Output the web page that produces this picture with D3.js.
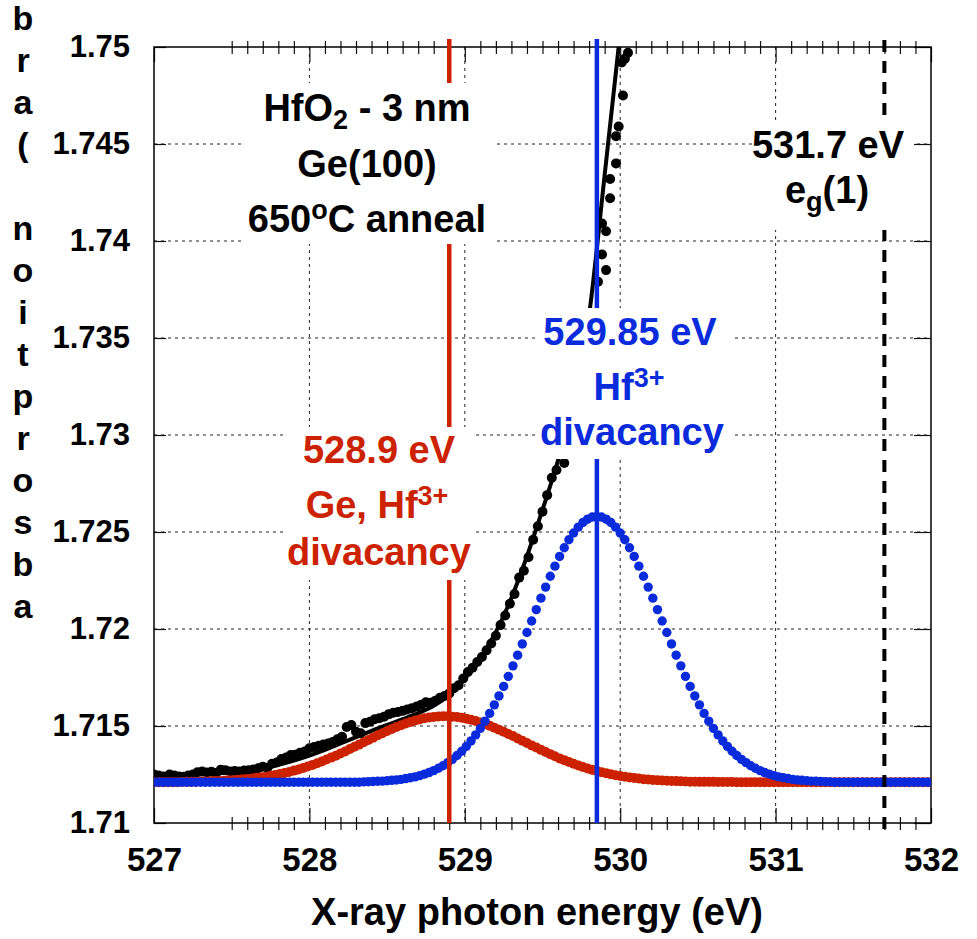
<!DOCTYPE html>
<html><head><meta charset="utf-8">
<script src="https://cdn.jsdelivr.net/npm/d3@7"></script>
<style>
body{margin:0;background:#fff}
svg{display:block}
text{font-family:"Liberation Sans",Arial,sans-serif;font-weight:bold}
</style>
</head><body>
<svg id="chart" width="977" height="939"></svg>
<script>
// ---------------- data ----------------
const xTicks = [527, 528, 529, 530, 531, 532];
const xTickLabels = ["527", "528", "529", "530", "531", "532"];
const yTicks = [1.71, 1.715, 1.72, 1.725, 1.73, 1.735, 1.74, 1.745, 1.75];
const yTickLabels = ["1.71", "1.715", "1.72", "1.725", "1.73", "1.735", "1.74", "1.745", "1.75"];
const yLabelChars = ["b", "r", "a", "(", " ", "n", "o", "i", "t", "p", "r", "o", "s", "b", "a"];
const xTitle = "X-ray photon energy (eV)";

// component curves sampled on a 0.03 eV grid starting at 527 eV
const gridStart = 527, gridStep = 0.03;
const redVals = [
  1.7121, 1.7121, 1.7121, 1.7121, 1.7121, 1.7121, 1.71211, 1.71212, 1.71212,
  1.71213, 1.71214, 1.71214, 1.71215, 1.71216, 1.71217, 1.71218, 1.71220, 1.71221, 1.71223,
  1.71225, 1.71227, 1.71230, 1.71233, 1.71236, 1.71239, 1.71243, 1.71248, 1.71253, 1.71258,
  1.71263, 1.71270, 1.71276, 1.71284, 1.71291, 1.71299, 1.71308, 1.71317, 1.71327, 1.71337,
  1.71347, 1.71358, 1.71369, 1.71381, 1.71393, 1.71404, 1.71416, 1.71428, 1.71440, 1.71452,
  1.71463, 1.71474, 1.71485, 1.71495, 1.71504, 1.71513, 1.71521, 1.71528, 1.71534, 1.71540,
  1.71544, 1.71547, 1.71549, 1.71550, 1.71550, 1.71548, 1.71546, 1.71543, 1.71538, 1.71532,
  1.71526, 1.71518, 1.71510, 1.71501, 1.71491, 1.71481, 1.71470, 1.71459, 1.71448, 1.71436,
  1.71424, 1.71412, 1.71400, 1.71389, 1.71377, 1.71366, 1.71355, 1.71344, 1.71333, 1.71324,
  1.71314, 1.71305, 1.71297, 1.71289, 1.71281, 1.71274, 1.71268, 1.71262, 1.71256, 1.71251,
  1.71246, 1.71242, 1.71238, 1.71235, 1.71232, 1.71229, 1.71226, 1.71224, 1.71222, 1.71221,
  1.71219, 1.71218, 1.71217, 1.71216, 1.71215, 1.71214, 1.71213, 1.71213, 1.71212, 1.71212,
  1.71212, 1.71212, 1.71211, 1.71211, 1.71211, 1.71211, 1.7121, 1.7121, 1.7121, 1.7121,
  1.7121, 1.7121, 1.7121, 1.7121, 1.7121, 1.7121, 1.7121, 1.7121, 1.7121, 1.7121,
  1.7121, 1.7121, 1.7121, 1.7121, 1.7121, 1.7121, 1.7121, 1.7121, 1.7121, 1.7121,
  1.7121, 1.7121, 1.7121, 1.7121, 1.7121, 1.7121, 1.7121, 1.7121, 1.7121, 1.7121,
  1.7121, 1.7121, 1.7121, 1.7121, 1.7121, 1.7121, 1.7121, 1.7121
];
const blueVals = [
  1.7121, 1.7121, 1.7121, 1.7121, 1.7121, 1.7121, 1.7121, 1.7121, 1.7121, 1.7121,
  1.7121, 1.7121, 1.7121, 1.7121, 1.7121, 1.7121, 1.7121, 1.7121, 1.7121, 1.7121,
  1.7121, 1.7121, 1.7121, 1.7121, 1.7121, 1.7121, 1.7121, 1.7121, 1.7121, 1.7121,
  1.7121, 1.7121, 1.7121, 1.7121, 1.7121, 1.7121, 1.7121, 1.7121, 1.7121, 1.7121,
  1.7121, 1.7121, 1.7121, 1.7121, 1.7121, 1.71212, 1.71213, 1.71214, 1.71215, 1.71216,
  1.71218, 1.71220, 1.71222, 1.71225, 1.71229, 1.71233, 1.71238, 1.71244, 1.71252, 1.71260,
  1.71270, 1.71282, 1.71295, 1.71311, 1.71328, 1.71348, 1.71370, 1.71395, 1.71423, 1.71454,
  1.71488, 1.71525, 1.71565, 1.71609, 1.71655, 1.71704, 1.71756, 1.71810, 1.71865, 1.71923,
  1.71982, 1.72041, 1.72100, 1.72159, 1.72216, 1.72272, 1.72324, 1.72374, 1.72419, 1.72460,
  1.72495, 1.72525, 1.72549, 1.72566, 1.72577, 1.72580, 1.72577, 1.72566, 1.72549, 1.72525,
  1.72495, 1.72460, 1.72419, 1.72374, 1.72324, 1.72272, 1.72216, 1.72159, 1.72100, 1.72041,
  1.71982, 1.71923, 1.71865, 1.71810, 1.71756, 1.71704, 1.71655, 1.71609, 1.71565, 1.71525,
  1.71488, 1.71454, 1.71423, 1.71395, 1.71370, 1.71348, 1.71328, 1.71311, 1.71295, 1.71282,
  1.71270, 1.71260, 1.71252, 1.71244, 1.71238, 1.71233, 1.71229, 1.71225, 1.71222, 1.71220,
  1.71218, 1.71216, 1.71215, 1.71214, 1.71213, 1.71212, 1.7121, 1.7121, 1.7121, 1.7121,
  1.7121, 1.7121, 1.7121, 1.7121, 1.7121, 1.7121, 1.7121, 1.7121, 1.7121, 1.7121,
  1.7121, 1.7121, 1.7121, 1.7121, 1.7121, 1.7121, 1.7121
];

// measured absorption points
const dataE = [
  527.00, 527.03, 527.06, 527.10, 527.13, 527.16, 527.19, 527.22, 527.25, 527.28,
  527.31, 527.34, 527.37, 527.40, 527.43, 527.46, 527.49, 527.52, 527.55, 527.58,
  527.61, 527.64, 527.67, 527.70, 527.73, 527.76, 527.79, 527.82, 527.85, 527.88,
  527.91, 527.94, 527.97, 528.00, 528.03, 528.06, 528.09, 528.12, 528.15, 528.18,
  528.21, 528.24, 528.27, 528.30, 528.33, 528.36, 528.39, 528.42, 528.45, 528.48,
  528.51, 528.54, 528.57, 528.60, 528.63, 528.66, 528.69, 528.72, 528.75, 528.78,
  528.81, 528.84, 528.87, 528.90, 528.93, 528.96, 528.99, 529.02, 529.05, 529.08,
  529.11, 529.14, 529.17, 529.20, 529.23, 529.26, 529.29, 529.32, 529.35, 529.38,
  529.41, 529.44, 529.47, 529.50, 529.53, 529.56, 529.59, 529.64, 529.68, 529.72,
  529.76, 529.80, 529.857, 529.883, 529.909, 529.909, 529.883, 529.935, 529.935, 529.973,
  529.973, 529.99, 530.018, 530.01, 530.03, 530.05
];
const dataV = [
  1.71250, 1.71245, 1.71240, 1.71250, 1.71245, 1.71240, 1.71238, 1.71245, 1.71250, 1.71262,
  1.71265, 1.71260, 1.71264, 1.71258, 1.71275, 1.71272, 1.71266, 1.71268, 1.71265, 1.71270,
  1.71272, 1.71276, 1.71282, 1.71290, 1.71285, 1.71305, 1.71312, 1.71330, 1.71338, 1.71350,
  1.71352, 1.71362, 1.71368, 1.71385, 1.71392, 1.71398, 1.71405, 1.71410, 1.71418, 1.71432,
  1.71445, 1.71495, 1.71505, 1.71470, 1.71462, 1.71515, 1.71522, 1.71535, 1.71540, 1.71548,
  1.71560, 1.71568, 1.71572, 1.71578, 1.71585, 1.71592, 1.71600, 1.71610, 1.71622, 1.71620,
  1.71630, 1.71645, 1.71655, 1.71668, 1.71695, 1.71710, 1.71745, 1.71778, 1.71800, 1.71830,
  1.71856, 1.71890, 1.71925, 1.71965, 1.72020, 1.72070, 1.72130, 1.72180, 1.72265, 1.72300,
  1.72370, 1.72460, 1.72530, 1.72605, 1.72690, 1.72780, 1.72820, 1.72856, 1.73000, 1.73180,
  1.73350, 1.73580, 1.73790, 1.73930, 1.73850, 1.74050, 1.74090, 1.74220, 1.74320, 1.74400,
  1.74540, 1.74590, 1.74750, 1.74920, 1.74940, 1.74970
];

// fitted curve
const fitE = [527.0, 527.1, 527.2, 527.3, 527.4, 527.5, 527.6, 527.7, 527.8, 527.9,
  528.0, 528.1, 528.2, 528.3, 528.4, 528.5, 528.6, 528.7, 528.8, 528.9,
  529.0, 529.1, 529.2, 529.3, 529.4, 529.5, 529.6, 529.7, 529.8, 529.9, 529.99];
const fitV = [1.71245, 1.71246, 1.71248, 1.71252, 1.71256, 1.71262, 1.71270, 1.71282, 1.71300, 1.71322,
  1.71348, 1.71377, 1.71410, 1.71443, 1.71475, 1.71506, 1.71535, 1.71566, 1.71604, 1.71660,
  1.71742, 1.71850, 1.71985, 1.72160, 1.72375, 1.72615, 1.72870, 1.73180, 1.73620, 1.74340, 1.75000];

const markerRed = 528.9, markerBlue = 529.85, markerEg = 531.7;

// ---------------- drawing ----------------
const RED = "#cc2200", BLUE = "#0a2bdc";
const svg = d3.select("#chart");
const x = d3.scaleLinear().domain([527, 532]).range([154, 931]);
const y = d3.scaleLinear().domain([1.71, 1.75]).range([823, 47]);
const L = 154, R = 931, T = 47, B = 823;

svg.append("defs").append("clipPath").attr("id", "clip")
  .append("rect").attr("x", L).attr("y", T).attr("width", R - L).attr("height", B - T);

// grid
const grid = svg.append("g").attr("stroke", "#222").attr("stroke-width", 1).attr("stroke-dasharray", "3,4");
grid.selectAll(".gv").data(xTicks.slice(1, -1)).join("line")
  .attr("x1", d => x(d)).attr("x2", d => x(d)).attr("y1", T).attr("y2", B);
grid.selectAll(".gh").data(yTicks.slice(1, -1)).join("line")
  .attr("x1", L).attr("x2", R).attr("y1", d => y(d)).attr("y2", d => y(d));

// axes
const minor = d3.range(5, 50).map(i => 527 + i * 0.1).filter(v => Math.abs(v - Math.round(v)) > 0.01);
function styleAxis(g) { g.select(".domain").remove(); g.selectAll("line").attr("stroke", "#111").attr("stroke-width", 1.2); }

const gb = svg.append("g").attr("transform", `translate(0,${B})`)
  .call(d3.axisBottom(x).tickValues(xTicks).tickSizeInner(-15).tickSizeOuter(0)
    .tickPadding(25).tickFormat((d, i) => xTickLabels[i]));
styleAxis(gb);
gb.selectAll("text").attr("font-size", 33).attr("fill", "#000");
const gbm = svg.append("g").attr("transform", `translate(0,${B})`)
  .call(d3.axisBottom(x).tickValues(minor).tickSize(7).tickFormat(""));
styleAxis(gbm); gbm.selectAll("line").attr("y1", -6);

const gt = svg.append("g").attr("transform", `translate(0,${T})`)
  .call(d3.axisTop(x).tickValues(xTicks).tickSizeInner(-15).tickSizeOuter(0).tickFormat(""));
styleAxis(gt);
const gtm = svg.append("g").attr("transform", `translate(0,${T})`)
  .call(d3.axisTop(x).tickValues(minor).tickSize(6).tickFormat(""));
styleAxis(gtm); gtm.selectAll("line").attr("y1", 7);

const gl = svg.append("g").attr("transform", `translate(${L},0)`)
  .call(d3.axisLeft(y).tickValues(yTicks).tickSizeInner(-12).tickSizeOuter(0)
    .tickPadding(24).tickFormat((d, i) => yTickLabels[i]));
styleAxis(gl);
gl.selectAll("text").attr("font-size", 31).attr("fill", "#000");
const gr = svg.append("g").attr("transform", `translate(${R},0)`)
  .call(d3.axisRight(y).tickValues(yTicks).tickSizeInner(-17).tickSizeOuter(0).tickFormat(""));
styleAxis(gr);

svg.append("rect").attr("x", L).attr("y", T).attr("width", R - L).attr("height", B - T)
  .attr("fill", "none").attr("stroke", "#000").attr("stroke-width", 1.5);

// curves
const plot = svg.append("g").attr("clip-path", "url(#clip)");
plot.append("path")
  .datum(fitE.map((e, i) => [e, fitV[i]]))
  .attr("fill", "none").attr("stroke", "#000").attr("stroke-width", 4)
  .attr("d", d3.line().x(d => x(d[0])).y(d => y(d[1])).curve(d3.curveMonotoneX));
plot.append("g").selectAll("circle").data(dataE.map((e, i) => [e, dataV[i]])).join("circle")
  .attr("cx", d => x(d[0])).attr("cy", d => y(d[1])).attr("r", 5).attr("fill", "#000");
plot.append("g").selectAll("circle").data(redVals.map((v, i) => [gridStart + i * gridStep, v])).join("circle")
  .attr("cx", d => x(d[0])).attr("cy", d => y(d[1])).attr("r", 5).attr("fill", RED);
plot.append("g").selectAll("circle").data(blueVals.map((v, i) => [gridStart + i * gridStep, v])).join("circle")
  .attr("cx", d => x(d[0])).attr("cy", d => y(d[1])).attr("r", 4.7).attr("fill", BLUE);

// marker lines
svg.append("line").attr("x1", x(markerRed)).attr("x2", x(markerRed)).attr("y1", 39).attr("y2", B)
  .attr("stroke", RED).attr("stroke-width", 4.5);
svg.append("line").attr("x1", x(markerBlue)).attr("x2", x(markerBlue)).attr("y1", 39).attr("y2", B)
  .attr("stroke", BLUE).attr("stroke-width", 4.5);
svg.append("line").attr("x1", x(markerEg)).attr("x2", x(markerEg)).attr("y1", 40).attr("y2", 831)
  .attr("stroke", "#000").attr("stroke-width", 4).attr("stroke-dasharray", "12,9");

// annotation boxes
function box(x0, y0, x1, y1) {
  svg.append("rect").attr("x", x0).attr("y", y0).attr("width", x1 - x0).attr("height", y1 - y0).attr("fill", "#fff");
}
box(243, 83, 493, 244);
box(537, 308, 732, 459);
box(283, 427, 475, 580);
box(753, 120, 913, 230);

function label(cx, by, parts, color) {
  const t = svg.append("text").attr("x", cx).attr("y", by).attr("text-anchor", "middle")
    .attr("font-size", 38).attr("fill", color);
  let shift = 0;
  parts.forEach(p => {
    const s = t.append("tspan").text(p.t);
    const target = p.sup ? -13 : p.sub ? 8 : 0;
    if (target !== shift) { s.attr("dy", target - shift); shift = target; }
    if (p.sup || p.sub) s.attr("font-size", 27);
  });
}
label(367, 121, [{t: "HfO"}, {t: "2", sub: true}, {t: " - 3 nm"}], "#000");
label(367, 177, [{t: "Ge(100)"}], "#000");
label(367, 232, [{t: "650"}, {t: "o", sup: true}, {t: "C anneal"}], "#000");

label(630, 345, [{t: "529.85 eV"}], BLUE);
label(629, 400, [{t: "Hf"}, {t: "3+", sup: true}], BLUE);
label(632, 445, [{t: "divacancy"}], BLUE);

label(379, 463, [{t: "528.9 eV"}], RED);
label(377, 518, [{t: "Ge, Hf"}, {t: "3+", sup: true}], RED);
label(379, 565, [{t: "divacancy"}], RED);

label(828, 158, [{t: "531.7 eV"}], "#000");
label(827, 203, [{t: "e"}, {t: "g", sub: true}, {t: "(1)"}], "#000");

// axis titles
svg.append("text").attr("x", 537).attr("y", 925).attr("text-anchor", "middle")
  .attr("font-size", 38).attr("fill", "#000").text(xTitle);
svg.append("g").selectAll("text").data(yLabelChars).join("text")
  .attr("x", 23).attr("y", (d, i) => 30 + i * 42).attr("text-anchor", "middle")
  .attr("font-size", 34).attr("fill", "#000").text(d => d);
</script>
</body></html>
